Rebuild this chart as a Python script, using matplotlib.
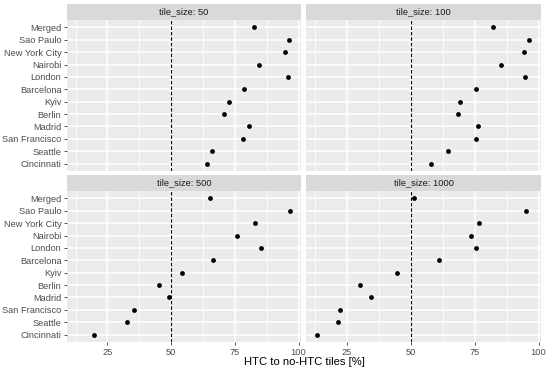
import matplotlib
matplotlib.use("Agg")
import matplotlib.pyplot as plt
import numpy as np

plt.rcParams['font.family'] = ['Liberation Sans', 'DejaVu Sans']

cities = ["Merged", "Sao Paulo", "New York City", "Nairobi", "London", "Barcelona",
          "Kyiv", "Berlin", "Madrid", "San Francisco", "Seattle", "Cincinnati"]
tile_sizes = ["50", "100", "500", "1000"]
vals_50 = [82.4, 96.2, 94.5, 84.4, 95.8, 78.5, 72.8, 70.8, 80.6, 78.1, 66.0, 63.9]
vals_100 = [82.2, 96.3, 94.4, 85.4, 94.8, 75.6, 69.3, 68.5, 76.2, 75.6, 64.7, 57.8]
vals_500 = [65.1, 96.8, 82.9, 75.9, 85.2, 66.3, 54.2, 45.2, 49.3, 35.3, 32.5, 19.8]
vals_1000 = [51.2, 95.3, 76.7, 73.7, 75.6, 61.3, 44.8, 30.3, 34.5, 22.5, 21.6, 13.3]
all_vals = [vals_50, vals_100, vals_500, vals_1000]
x_ticks = [25, 50, 75, 100]
threshold = 50

W, H = 550, 370
fig = plt.figure(figsize=(W / 100, H / 100), dpi=100)

def rect(x0, y0, x1, y1):
    return [x0 / W, 1 - y1 / H, (x1 - x0) / W, (y1 - y0) / H]

cols = [(67, 301), (306, 541)]
rows = [(4, 20, 171), (175, 191, 342)]

allv = np.concatenate(all_vals)
lo, hi = allv.min(), allv.max()
pad = 0.05 * (hi - lo)
xlim = (lo - pad, hi + pad)
n = len(cities)
ypos = np.arange(n)[::-1]

for i, (ts, vals) in enumerate(zip(tile_sizes, all_vals)):
    r, c = divmod(i, 2)
    x0, x1 = cols[c]
    st, pt, pb = rows[r]
    ax = fig.add_axes(rect(x0, pt, x1, pb))
    ax.set_facecolor('#EBEBEB')
    for s in ax.spines.values():
        s.set_visible(False)
    ax.set_xlim(*xlim)
    ax.set_ylim(-0.6, n - 1 + 0.6)
    minors = [12.5, 37.5, 62.5, 87.5]
    for m in minors:
        ax.axvline(m, color='white', lw=0.55, zorder=0)
    for t in x_ticks:
        ax.axvline(t, color='white', lw=1.1, zorder=0)
    for y in ypos:
        ax.axhline(y, color='white', lw=1.1, zorder=0)
    ax.axvline(threshold, color='black', lw=0.8, ls=(0, (3.1, 1.8)), zorder=2)
    ax.scatter(vals, ypos, s=12, color='black', zorder=3, linewidths=0)
    ax.set_yticks(ypos)
    ax.set_xticks(x_ticks)
    ax.tick_params(axis='both', length=2.5, width=0.6, color='#333333',
                   labelsize=6.7, labelcolor='#4D4D4D', pad=1.5)
    if c == 0:
        ax.set_yticklabels(cities)
    else:
        ax.set_yticklabels([])
        ax.tick_params(axis='y', length=0)
    if r == 1:
        ax.set_xticklabels([str(t) for t in x_ticks])
    else:
        ax.set_xticklabels([])
        ax.tick_params(axis='x', length=0)
    sax = fig.add_axes(rect(x0, st, x1, pt))
    sax.set_facecolor('#D9D9D9')
    sax.set_xticks([]); sax.set_yticks([])
    for s in sax.spines.values():
        s.set_visible(False)
    sax.text(0.5, 0.5, f"tile_size: {ts}", ha='center', va='center',
             fontsize=6.7, color='#1A1A1A', transform=sax.transAxes)

fig.text((67 + 541) / 2 / W, 1 - 362 / H, "HTC to no-HTC tiles [%]", ha='center',
         va='center', fontsize=8.1, color='black')

fig.savefig("out.png", dpi=100, facecolor='white')
